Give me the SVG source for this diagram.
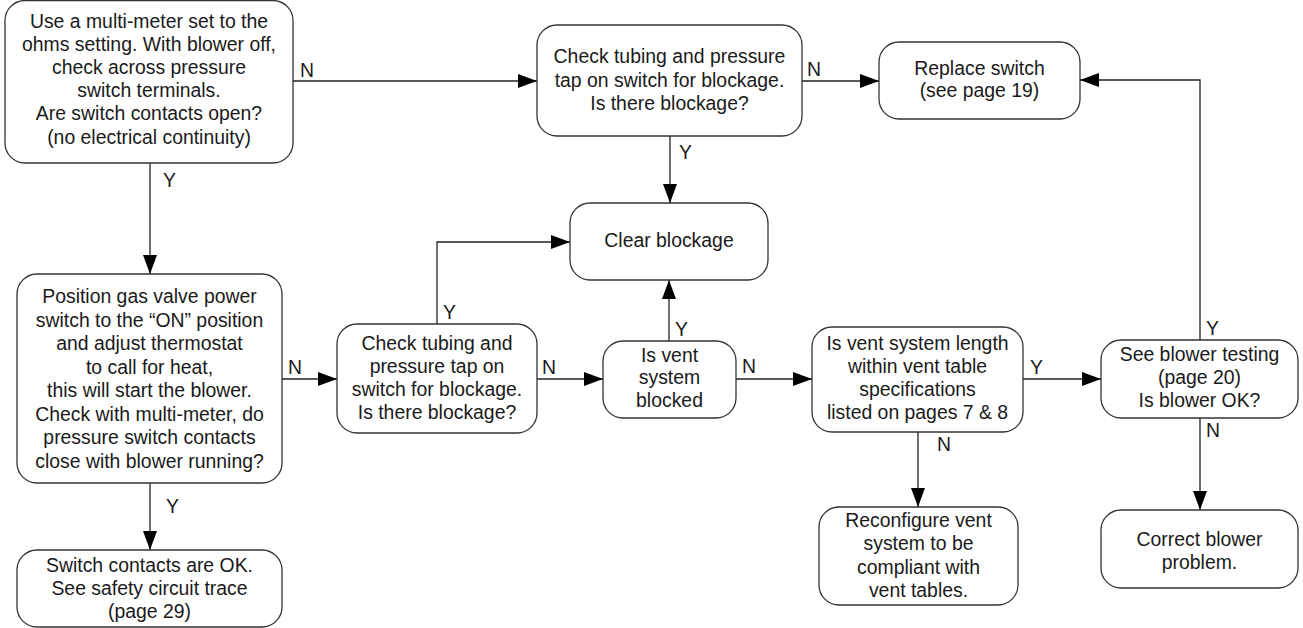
<svg xmlns="http://www.w3.org/2000/svg" width="1303" height="628" viewBox="0 0 1303 628">
<style>
.box{fill:#fff;stroke:#333;stroke-width:1.3}
.t{font-family:"Liberation Sans",Arial,sans-serif;font-size:19.4px;fill:#1a1a1a;text-anchor:middle}
.l{font-family:"Liberation Sans",Arial,sans-serif;font-size:19.4px;fill:#1a1a1a}
.c{fill:none;stroke:#222;stroke-width:1.3}
</style>
<defs>
<marker id="ah" markerUnits="userSpaceOnUse" markerWidth="20" markerHeight="16" refX="19" refY="7" orient="auto">
<path d="M0,0 L19,7 L0,14 Z" fill="#000"/>
</marker>
</defs>
<rect width="1303" height="628" fill="#fff"/>
<g id="connectors">
<path class="c" d="M293,81 H537" marker-end="url(#ah)"/>
<path class="c" d="M802,81 H879" marker-end="url(#ah)"/>
<path class="c" d="M150,163 V274" marker-end="url(#ah)"/>
<path class="c" d="M150,483 V550" marker-end="url(#ah)"/>
<path class="c" d="M282,379 H337" marker-end="url(#ah)"/>
<path class="c" d="M670,136 V203" marker-end="url(#ah)"/>
<path class="c" d="M437,324 V242 H570" marker-end="url(#ah)"/>
<path class="c" d="M537,379 H603" marker-end="url(#ah)"/>
<path class="c" d="M669,341 V280" marker-end="url(#ah)"/>
<path class="c" d="M736,379 H812" marker-end="url(#ah)"/>
<path class="c" d="M1023,379 H1101" marker-end="url(#ah)"/>
<path class="c" d="M918,432 V507" marker-end="url(#ah)"/>
<path class="c" d="M1200,340 V80 H1080" marker-end="url(#ah)"/>
<path class="c" d="M1200,418 V510" marker-end="url(#ah)"/>
<text class="l" x="300" y="77">N</text>
<text class="l" x="163" y="187">Y</text>
<text class="l" x="807" y="76">N</text>
<text class="l" x="679" y="159">Y</text>
<text class="l" x="288" y="374">N</text>
<text class="l" x="166" y="513">Y</text>
<text class="l" x="443" y="319">Y</text>
<text class="l" x="542" y="374">N</text>
<text class="l" x="675" y="336">Y</text>
<text class="l" x="742" y="373">N</text>
<text class="l" x="1030" y="374">Y</text>
<text class="l" x="937" y="451">N</text>
<text class="l" x="1206" y="335">Y</text>
<text class="l" x="1206" y="437">N</text>
</g>
<g id="n1">
<rect class="box" x="5" y="0.5" width="288" height="162.5" rx="20"/>
<text class="t" x="149" y="28">Use a multi-meter set to the</text>
<text class="t" x="149" y="51">ohms setting. With blower off,</text>
<text class="t" x="149" y="74">check across pressure</text>
<text class="t" x="149" y="97">switch terminals.</text>
<text class="t" x="149" y="120">Are switch contacts open?</text>
<text class="t" x="149" y="144">(no electrical continuity)</text>
</g>
<g id="n2">
<rect class="box" x="17" y="274" width="265" height="209" rx="20"/>
<text class="t" x="149.5" y="303">Position gas valve power</text>
<text class="t" x="149.5" y="326.5">switch to the “ON” position</text>
<text class="t" x="149.5" y="350">and adjust thermostat</text>
<text class="t" x="149.5" y="373.5">to call for heat,</text>
<text class="t" x="149.5" y="397">this will start the blower.</text>
<text class="t" x="149.5" y="420.5">Check with multi-meter, do</text>
<text class="t" x="149.5" y="444">pressure switch contacts</text>
<text class="t" x="149.5" y="467.5">close with blower running?</text>
</g>
<g id="n3">
<rect class="box" x="17" y="550" width="265" height="77" rx="20"/>
<text class="t" x="149.5" y="572">Switch contacts are OK.</text>
<text class="t" x="149.5" y="595">See safety circuit trace</text>
<text class="t" x="149.5" y="618">(page 29)</text>
</g>
<g id="n4">
<rect class="box" x="337" y="324" width="200" height="109" rx="20"/>
<text class="t" x="437" y="350">Check tubing and</text>
<text class="t" x="437" y="373">pressure tap on</text>
<text class="t" x="437" y="396">switch for blockage.</text>
<text class="t" x="437" y="419">Is there blockage?</text>
</g>
<g id="n5">
<rect class="box" x="537" y="25" width="265" height="111" rx="20"/>
<text class="t" x="669.5" y="63">Check tubing and pressure</text>
<text class="t" x="669.5" y="87">tap on switch for blockage.</text>
<text class="t" x="669.5" y="110">Is there blockage?</text>
</g>
<g id="n6">
<rect class="box" x="879" y="42" width="201" height="77" rx="20"/>
<text class="t" x="979.5" y="75">Replace switch</text>
<text class="t" x="979.5" y="97">(see page 19)</text>
</g>
<g id="n_clear">
<rect class="box" x="570" y="203" width="198" height="77" rx="20"/>
<text class="t" x="669" y="247">Clear blockage</text>
</g>
<g id="n7">
<rect class="box" x="603" y="341" width="133" height="77" rx="20"/>
<text class="t" x="669.5" y="362">Is vent</text>
<text class="t" x="669.5" y="384">system</text>
<text class="t" x="669.5" y="407">blocked</text>
</g>
<g id="n8">
<rect class="box" x="812" y="327" width="211" height="105" rx="20"/>
<text class="t" x="917.5" y="350">Is vent system length</text>
<text class="t" x="917.5" y="373">within vent table</text>
<text class="t" x="917.5" y="396">specifications</text>
<text class="t" x="917.5" y="419">listed on pages 7 &amp; 8</text>
</g>
<g id="n9">
<rect class="box" x="1101" y="340" width="197" height="78" rx="20"/>
<text class="t" x="1199.5" y="361">See blower testing</text>
<text class="t" x="1199.5" y="384">(page 20)</text>
<text class="t" x="1199.5" y="407">Is blower OK?</text>
</g>
<g id="n10">
<rect class="box" x="1101" y="510" width="197" height="78" rx="20"/>
<text class="t" x="1199.5" y="546">Correct blower</text>
<text class="t" x="1199.5" y="569">problem.</text>
</g>
<g id="n11">
<rect class="box" x="819" y="507" width="199" height="98" rx="20"/>
<text class="t" x="918.5" y="527">Reconfigure vent</text>
<text class="t" x="918.5" y="550">system to be</text>
<text class="t" x="918.5" y="574">compliant with</text>
<text class="t" x="918.5" y="597">vent tables.</text>
</g>
</svg>
